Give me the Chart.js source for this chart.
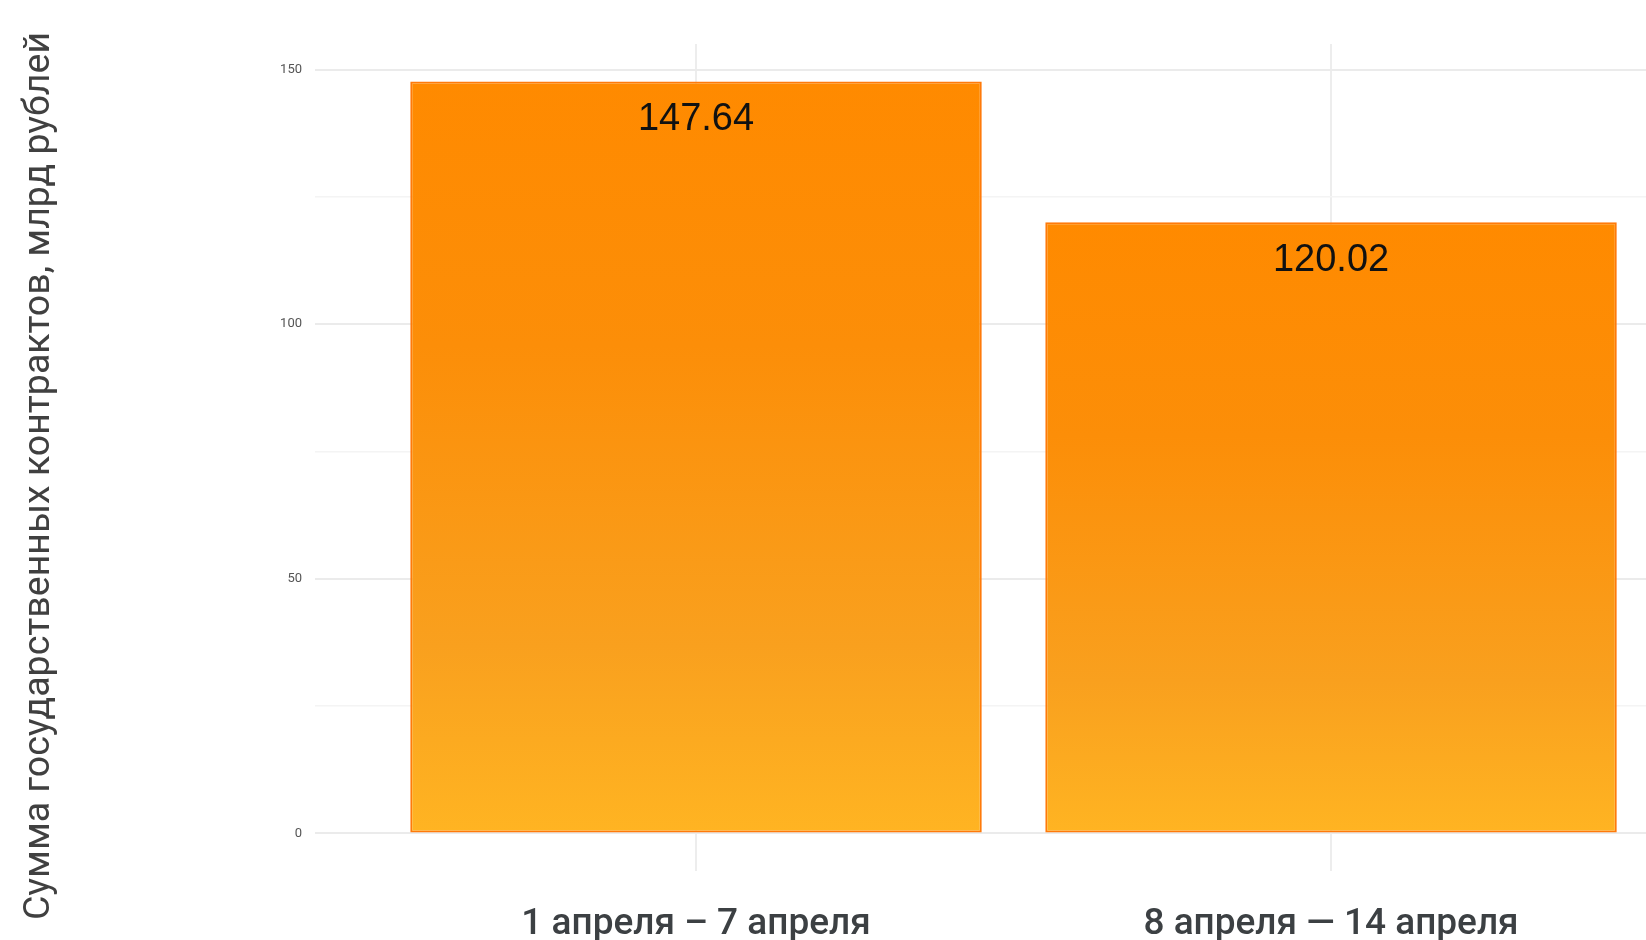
<!DOCTYPE html>
<html>
<head>
<meta charset="utf-8">
<script src="https://cdn.jsdelivr.net/npm/chart.js@4"></script>
<style>
  html, body { margin: 0; padding: 0; background: #fff; overflow: hidden; }
  #wrap { width: 1646px; height: 940px; }
</style>
</head>
<body>
<div id="wrap"><canvas id="chart"></canvas></div>
<script>
const categories = ['1 апреля – 7 апреля', '8 апреля — 14 апреля'];
const values = [147.64, 120.02];
const yTicks = [0, 25, 50, 75, 100, 125, 150];
const yLabelTicks = [0, 50, 100, 150];
const yTitle = 'Сумма государственных контрактов, млрд рублей';

// per-bar vertical gradient, top orange -> bottom yellow-orange
function barGradient(context) {
  const chart = context.chart;
  const { ctx, chartArea, scales } = chart;
  if (!chartArea || context.raw == null) return '#FF8C00';
  const top = scales.y.getPixelForValue(context.raw.y);
  const bottom = scales.y.getPixelForValue(0);
  const g = ctx.createLinearGradient(0, top, 0, bottom);
  g.addColorStop(0, '#FF8A00');
  g.addColorStop(0.35, '#FC8E08');
  g.addColorStop(0.75, '#F9A01E');
  g.addColorStop(1, '#FFB422');
  return g;
}

const valueLabels = {
  id: 'valueLabels',
  afterDatasetsDraw(chart) {
    const { ctx } = chart;
    const meta = chart.getDatasetMeta(0);
    ctx.save();
    ctx.font = '38px "Liberation Sans", Arial, sans-serif';
    ctx.fillStyle = '#111';
    ctx.textAlign = 'center';
    ctx.textBaseline = 'middle';
    meta.data.forEach((bar, i) => {
      ctx.fillText(values[i].toFixed(2), bar.x, bar.y + 38);
    });
    ctx.restore();
  }
};

// rotated y title, placed like the original
const yTitlePlugin = {
  id: 'yTitlePlugin',
  afterDraw(chart) {
    const { ctx } = chart;
    ctx.save();
    ctx.translate(40, 476);
    ctx.rotate(-Math.PI / 2);
    ctx.font = '37.5px Roboto';
    ctx.fillStyle = '#404040';
    ctx.textAlign = 'center';
    ctx.textBaseline = 'middle';
    ctx.fillText(yTitle, 0, 0);
    ctx.restore();
  }
};

new Chart(document.getElementById('chart'), {
  type: 'bar',
  data: {
    datasets: [{
      data: values.map((v, i) => ({ x: i + 1, y: v })),
      backgroundColor: barGradient,
      borderColor: '#FF7A0A',
      borderWidth: 2,
      borderSkipped: false,
      barPercentage: 0.9,
      categoryPercentage: 1,
    }],
  },
  options: {
    responsive: true,
    maintainAspectRatio: false,
    animation: false,
    layout: { padding: { top: 44, right: 0, left: 0, bottom: 0 } },
    plugins: {
      legend: { display: false },
      tooltip: { enabled: false },
    },
    scales: {
      x: {
        type: 'linear',
        offset: false,
        min: 0.4,
        max: 2.496,
        afterBuildTicks: (s) => { s.ticks = [{ value: 1 }, { value: 2 }]; },
        afterFit: (s) => { s.height = 69; },
        grid: { offset: false, color: '#EDEDED', lineWidth: 2, drawTicks: false },
        border: { display: false },
        ticks: {
          padding: 32,
          color: '#3c4043',
          font: { family: 'Roboto', size: 37, weight: '500' },
          callback: (v) => categories[v - 1] || '',
        },
      },
      y: {
        min: -7.38,
        max: 155.02,
        afterBuildTicks: (s) => { s.ticks = yTicks.map(v => ({ value: v })); },
        afterFit: (s) => { s.width = 315; },
        grid: {
          drawTicks: false,
          color: (c) => yLabelTicks.includes(c.tick && c.tick.value) ? '#EBEBEB' : '#F4F4F4',
          lineWidth: (c) => yLabelTicks.includes(c.tick && c.tick.value) ? 2 : 1.5,
        },
        border: { display: false },
        ticks: {
          padding: 13,
          color: '#555',
          font: { family: 'Roboto', size: 13 },
          callback: (v) => yLabelTicks.includes(v) ? String(v) : '',
        },
      },
    },
  },
  plugins: [valueLabels, yTitlePlugin],
});
</script>
</body>
</html>
